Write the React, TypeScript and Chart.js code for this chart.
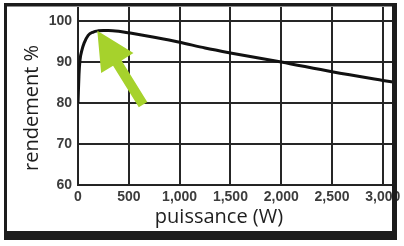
import { useEffect, useRef } from "react";
import { Chart, registerables } from "chart.js";

Chart.register(...registerables);

const powerW = [0, 10, 20, 40, 60, 100, 150, 200, 250, 300, 400, 500, 750, 1000, 1250, 1500, 2000, 2500, 3000, 3100];
const efficiencyPct = [80, 87, 90.5, 93, 94.6, 96.5, 97.3, 97.6, 97.7, 97.7, 97.5, 97.1, 96, 94.8, 93.4, 92.2, 90, 87.6, 85.5, 85.1];
const xTickValues = [0, 500, 1000, 1500, 2000, 2500, 3000];
const yTickValues = [60, 70, 80, 90, 100];
const xRange = [0, 3100];
const yRange = [60, 103.4];
const xTitle = "puissance (W)";
const yTitle = "rendement %";
// arrow annotation, in data units: [power, efficiency]
const arrowTail = [640, 79.6];
const arrowTip = [190, 97.6];

const GRID = "#262626";
const FRAME = "#1c1c1c";
const ARROW = "#a6d22c";

const decor = {
  id: "decor",
  afterDatasetsDraw(chart: any) {
    const { ctx, scales } = chart;
    const tx = scales.x.getPixelForValue(arrowTip[0]);
    const ty = scales.y.getPixelForValue(arrowTip[1]);
    const sx = scales.x.getPixelForValue(arrowTail[0]);
    const sy = scales.y.getPixelForValue(arrowTail[1]);
    const dx = tx - sx;
    const dy = ty - sy;
    const len = Math.hypot(dx, dy);
    const ux = dx / len;
    const uy = dy / len;
    const nx = -uy;
    const ny = ux;
    const headLen = 38;
    const headHalf = 19;
    const shaftHalf = 5;
    const bx = tx - ux * headLen;
    const by = ty - uy * headLen;
    ctx.save();
    ctx.fillStyle = ARROW;
    ctx.beginPath();
    ctx.moveTo(sx + nx * shaftHalf, sy + ny * shaftHalf);
    ctx.lineTo(bx + nx * shaftHalf, by + ny * shaftHalf);
    ctx.lineTo(bx + nx * headHalf, by + ny * headHalf);
    ctx.lineTo(tx, ty);
    ctx.lineTo(bx - nx * headHalf, by - ny * headHalf);
    ctx.lineTo(bx - nx * shaftHalf, by - ny * shaftHalf);
    ctx.lineTo(sx - nx * shaftHalf, sy - ny * shaftHalf);
    ctx.closePath();
    ctx.fill();
    ctx.restore();
  },
  afterDraw(chart: any) {
    const { ctx, scales } = chart;
    const left = scales.x.getPixelForValue(xRange[0]);
    const right = scales.x.getPixelForValue(xRange[1]);
    const top = scales.y.getPixelForValue(yRange[1]);
    const bottom = scales.y.getPixelForValue(yRange[0]);
    ctx.save();
    ctx.fillStyle = FRAME;
    ctx.fillRect(4, 3, 393, 3.5);
    ctx.fillRect(4, 3, 3, 237);
    ctx.fillRect(right - 1, 3, 5, 237);
    ctx.fillRect(4, 231, 393, 9);
    ctx.restore();

    ctx.save();
    ctx.fillStyle = "#1e1e1e";
    ctx.font = "20px 'Open Sans'";
    ctx.textAlign = "center";
    ctx.textBaseline = "middle";
    ctx.fillText(xTitle, left + 141, bottom + 32);
    ctx.restore();

    ctx.save();
    ctx.fillStyle = "#1e1e1e";
    ctx.font = "20px 'Open Sans'";
    ctx.textAlign = "center";
    ctx.textBaseline = "middle";
    ctx.translate(left - 46, top + 101);
    ctx.rotate(-Math.PI / 2);
    ctx.fillText(yTitle, 0, 0);
    ctx.restore();
  },
};

export default function App() {
  const ref = useRef<HTMLCanvasElement | null>(null);
  useEffect(() => {
    if (!ref.current) return;
    const chart = new Chart(ref.current, {
      type: "line",
      data: {
        datasets: [
          {
            data: powerW.map((p, i) => ({ x: p, y: efficiencyPct[i] })),
            borderColor: "#111",
            borderWidth: 3,
            pointRadius: 0,
            cubicInterpolationMode: "monotone",
            fill: false,
          },
        ],
      },
      options: {
        animation: false,
        responsive: false,
        maintainAspectRatio: false,
        layout: { padding: { left: 0, top: 7, right: 11, bottom: 0 } },
        plugins: { legend: { display: false } },
        scales: {
          x: {
            type: "linear",
            min: xRange[0],
            max: xRange[1],
            afterBuildTicks: (s: any) => {
              s.ticks = xTickValues.map((v) => ({ value: v }));
            },
            afterFit: (s: any) => {
              s.height = 61;
              s.paddingLeft = 0;
              s.paddingRight = 0;
            },
            grid: { color: GRID, lineWidth: 2, tickLength: 0 },
            ticks: {
              padding: 4,
              color: "#3c3c3c",
              font: { family: "Liberation Sans", size: 14, weight: "bold" },
            },
          },
          y: {
            min: yRange[0],
            max: yRange[1],
            afterBuildTicks: (s: any) => {
              s.ticks = yTickValues.map((v) => ({ value: v }));
            },
            afterFit: (s: any) => {
              s.width = 78;
              s.paddingTop = 0;
              s.paddingBottom = 0;
            },
            grid: { color: GRID, lineWidth: 2, tickLength: 0 },
            ticks: {
              padding: 6,
              color: "#3c3c3c",
              font: { family: "Liberation Sans", size: 14, weight: "bold" },
            },
          },
        },
      },
      plugins: [decor],
    } as any);
    return () => chart.destroy();
  }, []);
  return (
    <div style={{ position: "absolute", left: 0, top: 0, width: 404, height: 246, background: "#ffffff" }}>
      <canvas ref={ref} width={404} height={246} style={{ display: "block" }} />
    </div>
  );
}
